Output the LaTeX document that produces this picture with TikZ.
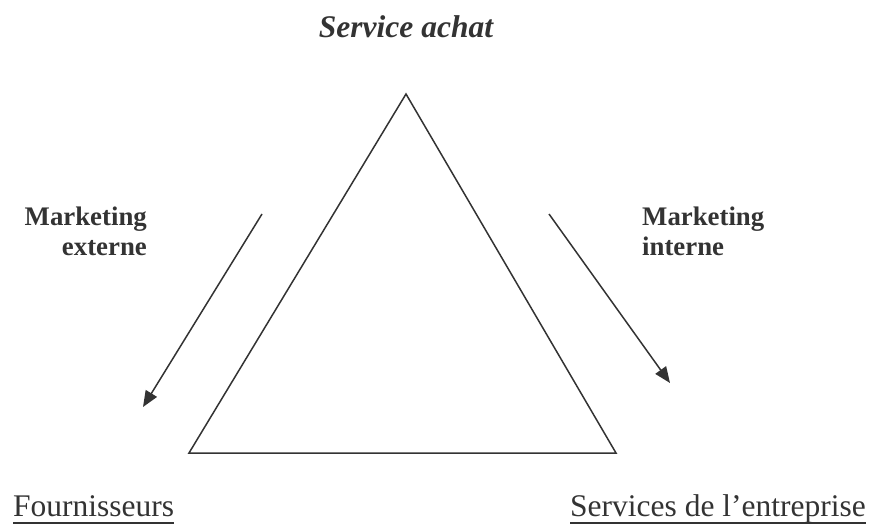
\documentclass[tikz,border=0pt]{standalone}
\usepackage{fontspec}
\setmainfont{Liberation Serif}
\usetikzlibrary{arrows.meta}
\definecolor{ink}{HTML}{333333}
\tikzset{
  edge/.style={draw=ink, line width=1.5pt},
  flow/.style={draw=ink, line width=1.5pt, -{Triangle[length=16pt,width=13pt]}},
  title/.style={inner sep=0pt, text=ink, font=\fontsize{31.5}{37}\selectfont\bfseries\itshape},
  mlabel/.style={inner sep=0pt, text=ink, font=\fontsize{26.8}{30}\selectfont\bfseries},
  plabel/.style={inner sep=0pt, text=ink, font=\fontsize{31.5}{37}\selectfont},
  uline/.style={draw=ink, line width=2.2pt}
}
\begin{document}
\begin{tikzpicture}[x=1pt,y=-1pt]
\useasboundingbox (0,0) rectangle (873,524);
% triangle
\coordinate (top) at (406,94);
\coordinate (bl) at (189,453);
\coordinate (br) at (616,453);
\draw[edge, line join=miter] (top) -- (bl) -- (br) -- cycle;
% title
\node[title, anchor=base] (tt) at (406,38) {Service achat};
% marketing labels
\node[mlabel, anchor=base east] (me1) at (147,225) {Marketing};
\node[mlabel, anchor=base east] (me2) at (147,255) {externe};
\node[mlabel, anchor=base west] (mi1) at (642,225) {Marketing};
\node[mlabel, anchor=base west] (mi2) at (642,255) {interne};
% arrows
\coordinate (a1s) at (262,214);
\coordinate (a1e) at (143,407);
\coordinate (a2s) at (549,214);
\coordinate (a2e) at (670,383);
\draw[flow] (a1s) -- (a1e);
\draw[flow] (a2s) -- (a2e);
% bottom labels
\node[plabel, anchor=base west] (f) at (13,516) {Fournisseurs};
\node[plabel, anchor=base west] (s) at (570,516) {Services de l’entreprise};
\draw[uline] ([yshift=-7pt]f.base west) -- ([yshift=-7pt]f.base east);
\draw[uline] ([yshift=-7pt]s.base west) -- ([yshift=-7pt]s.base east);
\end{tikzpicture}
\end{document}
